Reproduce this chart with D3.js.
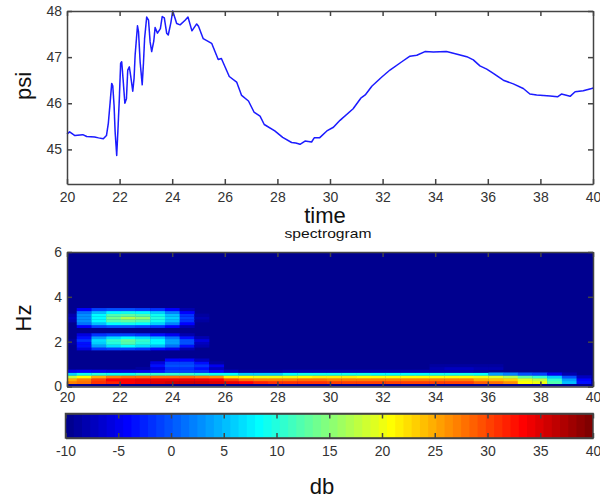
<!doctype html>
<html lang="en">
<head>
	<meta charset="utf-8">
	<title>Pressure and spectrogram</title>
	<script src="https://cdnjs.cloudflare.com/ajax/libs/d3/7.8.5/d3.min.js"></script>
	<style>
		body { margin: 0; background: #fff; }
		svg { display: block; }
		text { font-family: "Liberation Sans", Arial, sans-serif; fill: #111; }
		.tick text { font-size: 14px; fill: #333; }
		.tick line, .domain { stroke: #444; }
	</style>
</head>
<body>
	<svg width="600" height="499"></svg>
	<script>
		// pressure trace
		var timeValues = [20,20.1,20.3,20.6,20.75,21.05,21.2,21.38,21.5,21.57,21.63,21.7,21.74,21.79,21.83,21.89,21.94,21.99,22.04,22.08,22.13,22.2,22.26,22.31,22.37,22.42,22.5,22.55,22.59,22.68,22.72,22.78,22.86,22.91,22.95,23.03,23.1,23.16,23.22,23.3,23.35,23.44,23.55,23.62,23.7,23.79,23.85,23.95,24.02,24.17,24.3,24.49,24.6,24.75,24.93,25,25.18,25.5,25.75,25.87,26.17,26.45,26.64,26.9,27.11,27.34,27.5,27.9,28.2,28.54,28.7,28.86,29.05,29.3,29.4,29.6,29.88,30.13,30.38,30.88,31.17,31.34,31.59,31.97,32.28,32.73,33.04,33.3,33.61,33.93,34.43,34.8,35.2,35.45,35.7,35.96,36.21,36.59,36.97,37.35,37.6,37.86,38.37,38.65,38.8,39.13,39.32,39.63,39.95,40];
		var psiValues = [45.33,45.38,45.3,45.32,45.28,45.27,45.25,45.23,45.3,45.56,45.95,46.43,46.38,45.95,45.38,44.87,45.46,46.1,46.87,46.9,46.54,46,46.1,46.72,46.79,46.6,46.26,46.54,47.04,47.68,47.55,46.9,46.4,46.9,47.4,47.87,47.8,47.33,47.12,47.35,47.64,47.52,47.62,47.88,47.85,47.52,47.48,47.75,48,47.73,47.7,47.8,47.87,47.57,47.72,47.67,47.4,47.3,46.95,46.97,46.58,46.46,46.17,46.05,45.81,45.72,45.54,45.4,45.26,45.15,45.14,45.11,45.18,45.16,45.25,45.25,45.4,45.48,45.63,45.88,46.11,46.18,46.37,46.57,46.72,46.9,47.02,47.04,47.12,47.11,47.12,47.07,47.01,46.94,46.81,46.74,46.65,46.5,46.42,46.32,46.2,46.18,46.16,46.14,46.2,46.15,46.25,46.27,46.32,46.33];

		// spectrogram grid
		var timeTicks = [20,22,24,26,28,30,32,34,36,38,40];
		var psiTicks = [45,46,47,48];
		var hzTicks = [0,2,4,6];
		var dbTicks = [-10,-5,0,5,10,15,20,25,30,35,40];
		var specStart = 20.37, specStep = 0.559, freqStep = 0.125;
		var specColumns = 37;
		// only rows with signal are kept, everything else stays at the floor of -10 db
		var specRowIndex = [1,2,3,4,5,6,7,8,9,13,14,15,16,17,18,21,22,23,24,25,26,27];
		var specDb = [
			[27,28,31,32,33,34,35,36,36,36,35,34,33,32,31,31,31,31,30,30,30,30,30,30,30,30,30,30,29,28,26,21,20,12,5,-3,-8],
			[25,27,30,33,33,34,34,34,34,34,33,30,28,27,27,27,28,28,27,27,27,27,27,27,27,27,27,27,25,24,23,19,18,11,4,-4,-9],
			[18,21,25,27,28,28,28,28,28,27,26,22,21,20,20,20,21,22,22,22,21,21,21,21,21,21,21,21,20,19,17,13,11,6,0,-7,-10],
			[6,9,10,9,9,11,11,11,11,10,9,8,6,6,6,8,9,9,9,9,9,8,8,8,8,9,9,9,8,4,2,0,-1,-5,-8,-10,-10],
			[-5,-4,-5,-6,-6,-5,-3,-1,-1,-2,-4,-7,-9,-9,-9,-8,-8,-8,-8,-8,-8,-8,-8,-8,-8,-8,-8,-8,-9],
			[-10,-10,-10,-10,-10,-9,-6,-2,-2,-3,-7,-10,-10,-10,-10,-10,-10,-10,-10,-10,-10,-10,-10,-10,-10,-8,-7,-7,-8,-8],
			[-10,-10,-10,-10,-10,-10,-3,0,0,-2,-5,-10,-10,-10,-10,-10,-10,-10,-10,-10,-10,-10,-10,-10,-10,-9,-9,-9,-9,-9],
			[-10,-10,-10,-10,-10,-10,-6,-1,-1,-3,-9],
			[-10,-10,-10,-10,-10,-10,-10,-4,-4,-7],
			[-10,-6,-2,-1,-1,-2,-3,-5,-8,-10],
			[-10,-3,4,7,8,7,5,1,-3,-8],
			[-9,-3,6,10,12,10,8,4,0,-7],
			[-9,-2,7,11,13,11,8,4,0,-6],
			[-10,-3,4,7,8,7,5,1,-3,-8],
			[-10,-6,-2,-1,-1,-2,-3,-5,-8,-10],
			[-10,-4,-1,0,0,-1,-2,-4,-8,-10],
			[-10,1,5,8,9,8,6,2,-4,-10],
			[-8,3,8,12,13,12,9,5,-2,-9],
			[-7,3,8,14,17,15,10,6,-1,-8],
			[-8,3,8,12,13,12,9,5,-2,-9],
			[-10,1,5,8,9,8,6,2,-4,-10],
			[-10,-4,-1,0,0,-1,-2,-4,-8,-10]
		];

		var svg = d3.select("svg");
		var x0 = 67, x1 = 593;

		// matlab jet with 64 levels
		function jet(level) {
			var v = (level + 1) / 64;
			function ch(c) { return Math.round(255 * Math.max(0, Math.min(1, 1.5 - Math.abs(4 * v - c)))); }
			return d3.rgb(ch(3), ch(2), ch(1)).formatHex();
		}
		function dbColor(db) {
			var level = Math.min(63, Math.floor((db + 10) / 50 * 64));
			return jet(level);
		}

		function boxAxes(g, xScale, yScale, xTicks, yTicks, xPad) {
			var top = yScale.range()[1], bottom = yScale.range()[0];
			g.append("g").attr("transform", "translate(0," + bottom + ")")
				.call(d3.axisBottom(xScale).tickValues(xTicks).tickSizeInner(-5).tickSizeOuter(0).tickPadding(xPad).tickFormat(String));
			g.append("g").attr("transform", "translate(0," + top + ")")
				.call(d3.axisTop(xScale).tickValues(xTicks).tickSizeInner(-5).tickSizeOuter(0).tickFormat(""));
			g.append("g").attr("transform", "translate(" + x0 + ",0)")
				.call(d3.axisLeft(yScale).tickValues(yTicks).tickSizeInner(-5).tickSizeOuter(0).tickPadding(5).tickFormat(String));
			g.append("g").attr("transform", "translate(" + x1 + ",0)")
				.call(d3.axisRight(yScale).tickValues(yTicks).tickSizeInner(-5).tickSizeOuter(0).tickFormat(""));
			g.selectAll(".domain, .tick line").attr("stroke-width", 1.5);
		}

		var defs = svg.append("defs");
		defs.append("filter").attr("id", "soft")
			.attr("x", "-2%").attr("y", "-2%").attr("width", "104%").attr("height", "104%")
			.append("feGaussianBlur").attr("stdDeviation", 0.7);
		defs.append("filter").attr("id", "softLine")
			.attr("filterUnits", "userSpaceOnUse")
			.attr("x", 0).attr("y", 0).attr("width", 600).attr("height", 250)
			.append("feGaussianBlur").attr("stdDeviation", 0.35);

		//top panel
		var xScale = d3.scaleLinear().domain([20, 40]).range([x0, x1]);
		var psiScale = d3.scaleLinear().domain([44.25, 48]).range([184, 11]);
		var psiLine = d3.line()
			.x(function(d, i) { return xScale(timeValues[i]); })
			.y(function(d) { return psiScale(d); });
		svg.append("path")
			.attr("d", psiLine(psiValues))
			.attr("fill", "none")
			.attr("stroke", "#1a1aff")
			.attr("stroke-width", 1.5)
			.attr("stroke-linejoin", "round")
			.attr("filter", "url(#softLine)");
		boxAxes(svg.append("g"), xScale, psiScale, timeTicks, psiTicks, 8);

		//spectrogram
		var hzScale = d3.scaleLinear().domain([0, 6]).range([386.5, 252]);
		defs.append("clipPath").attr("id", "specClip").append("rect")
			.attr("x", x0).attr("y", 252).attr("width", x1 - x0).attr("height", 134.5);

		var specG = svg.append("g").attr("clip-path", "url(#specClip)").append("g").attr("filter", "url(#soft)");
		specG.append("rect")
			.attr("x", x0 - 4).attr("y", hzScale(6) - 4)
			.attr("width", x1 - x0 + 8).attr("height", hzScale(0) - hzScale(6) + 8)
			.attr("fill", dbColor(-10));
		specRowIndex.forEach(function(row, r) {
			d3.range(specColumns).forEach(function(c) {
				var db = specDb[r][c] === undefined ? -10 : specDb[r][c];
				if (db <= -10) return;
				var t0 = c === 0 ? 20 : specStart + (c - 1) * specStep;
				var t1 = c === specColumns - 1 ? 40 : specStart + c * specStep;
				specG.append("rect")
					.attr("x", xScale(t0))
					.attr("y", hzScale((row + 1) * freqStep))
					.attr("width", xScale(t1) - xScale(t0) + 0.3)
					.attr("height", hzScale(row * freqStep) - hzScale((row + 1) * freqStep) + 0.3)
					.attr("fill", dbColor(db));
			});
		});
		boxAxes(svg.append("g"), xScale, hzScale, timeTicks, hzTicks, 6);

		//colorbar
		var dbScale = d3.scaleLinear().domain([-10, 40]).range([65.5, 593]);
		var barY = d3.scaleLinear().domain([0, 1]).range([438, 413.5]);
		svg.append("g").selectAll("rect")
			.data(d3.range(64))
			.enter().append("rect")
			.attr("x", function(d) { return dbScale(-10 + d * 50 / 64); })
			.attr("y", barY(1))
			.attr("width", function(d) { return dbScale(-10 + 50 / 64) - dbScale(-10) + (d < 63 ? 1 : 0); })
			.attr("height", barY(0) - barY(1))
			.attr("fill", function(d) { return jet(d); });
		var barG = svg.append("g");
		barG.append("g").attr("transform", "translate(0," + barY(0) + ")")
			.call(d3.axisBottom(dbScale).tickValues(dbTicks).tickSizeInner(-5).tickSizeOuter(0).tickPadding(8).tickFormat(String));
		barG.append("g").attr("transform", "translate(0," + barY(1) + ")")
			.call(d3.axisTop(dbScale).tickValues(dbTicks).tickSizeInner(-5).tickSizeOuter(0).tickFormat(""));
		barG.append("rect")
			.attr("x", dbScale(-10)).attr("y", barY(1))
			.attr("width", dbScale(40) - dbScale(-10)).attr("height", barY(0) - barY(1))
			.attr("fill", "none").attr("stroke", "#444").attr("stroke-width", 1.5);
		barG.selectAll(".domain, .tick line").attr("stroke-width", 1.5);

		//labels
		function label(txt, x, y, size, rotate) {
			return svg.append("text")
				.attr("transform", "translate(" + x + "," + y + ")" + (rotate ? " rotate(-90)" : ""))
				.attr("text-anchor", "middle")
				.style("font-size", size + "px")
				.text(txt);
		}
		label("psi", 31, 86, 22, true);
		label("time", 325, 223, 22, false);
		label("spectrogram", 328, 238, 13, false).attr("textLength", 87).attr("lengthAdjust", "spacingAndGlyphs");
		label("Hz", 31, 318, 22, true);
		label("db", 322, 494, 22, false);
	</script>
</body>
</html>
